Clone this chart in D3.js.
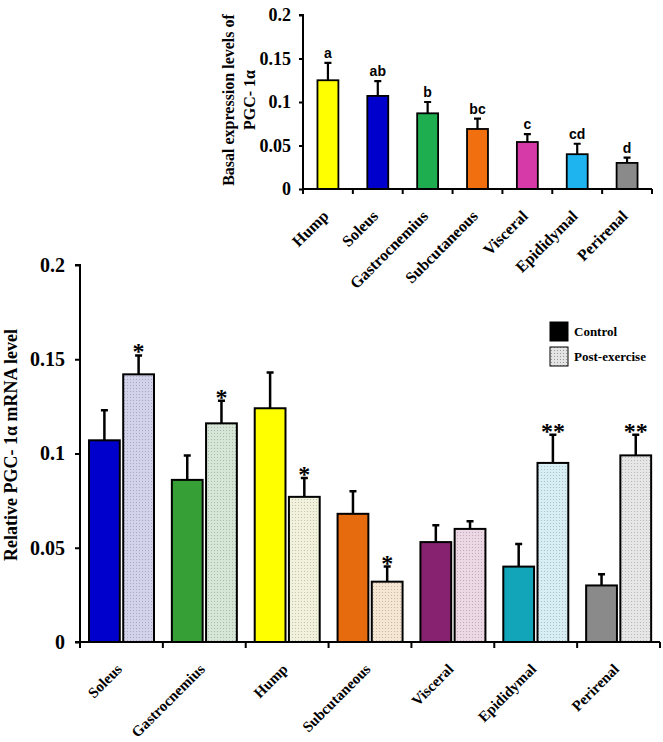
<!DOCTYPE html>
<html>
<head>
<meta charset="utf-8">
<script src="https://cdn.jsdelivr.net/npm/d3@7"></script>
<style>
body { margin: 0; background: #fff; }
text { font-family: "Liberation Serif", "Times New Roman", serif; font-weight: bold; }
</style>
</head>
<body>
<div class="chart"></div>
<script>
// top chart: basal levels
const basalTissues = ['Hump', 'Soleus', 'Gastrocnemius', 'Subcutaneous', 'Visceral', 'Epididymal', 'Perirenal'];
const basalMean = [0.125, 0.107, 0.087, 0.069, 0.054, 0.040, 0.030];
const basalErr = [0.020, 0.017, 0.013, 0.012, 0.009, 0.012, 0.006];
const basalLetters = ['a', 'ab', 'b', 'bc', 'c', 'cd', 'd'];
const basalColors = ['#ffff00', '#0000cc', '#1fae4f', '#f26f10', '#d63aa8', '#1db4f0', '#8a8a8a'];

// bottom chart: control vs post-exercise
const tissues = ['Soleus', 'Gastrocnemius', 'Hump', 'Subcutaneous', 'Visceral', 'Epididymal', 'Perirenal'];
const controlMean = [0.107, 0.086, 0.124, 0.068, 0.053, 0.040, 0.030];
const controlErr = [0.016, 0.013, 0.019, 0.012, 0.009, 0.012, 0.006];
const postMean = [0.142, 0.116, 0.077, 0.032, 0.060, 0.095, 0.099];
const postErr = [0.010, 0.012, 0.010, 0.008, 0.004, 0.015, 0.011];
const postStars = ['*', '*', '*', '*', '', '**', '**'];
const controlColors = ['#0000cc', '#36a036', '#ffff00', '#e56b0e', '#862270', '#12a4b8', '#8a8a8a'];
const postColors = ['#d2d2ea', '#d6e6d6', '#f2f2dc', '#f4e6d2', '#ecd8e4', '#d6eef4', '#e6e6e6'];
const yTicks = [0, 0.05, 0.1, 0.15, 0.2];

const width = 663;
const height = 742;
const svg = d3.select('.chart')
	.append('svg')
	.attr('width', width)
	.attr('height', height);

const defs = svg.append('defs');
postColors.forEach((c, i) => {
	const p = defs.append('pattern')
		.attr('id', 'dots' + i)
		.attr('width', 3)
		.attr('height', 3)
		.attr('patternUnits', 'userSpaceOnUse');
	p.append('rect').attr('width', 3).attr('height', 3).attr('fill', c);
	p.append('rect').attr('x', 1).attr('y', 1).attr('width', 1).attr('height', 1)
		.attr('fill', d3.color(c).darker(0.6));
});
const legendPat = defs.append('pattern')
	.attr('id', 'dotsLegend')
	.attr('width', 3)
	.attr('height', 3)
	.attr('patternUnits', 'userSpaceOnUse');
legendPat.append('rect').attr('width', 3).attr('height', 3).attr('fill', '#e4e4e4');
legendPat.append('rect').attr('x', 1).attr('y', 1).attr('width', 1).attr('height', 1).attr('fill', '#999');

// ---------- top chart ----------
const tx = d3.scaleBand().domain(basalTissues).range([303, 652]);
const ty = d3.scaleLinear().domain([0, 0.2]).range([189, 15]);
const tbw = tx.bandwidth() * 0.42;

const topG = svg.append('g');
topG.selectAll('.terr')
	.data(basalTissues)
	.enter()
	.append('path')
	.attr('d', (d, i) => {
		const cx = tx(d) + tx.bandwidth() / 2;
		const y1 = ty(basalMean[i] + basalErr[i]);
		return `M${cx},${ty(basalMean[i])}V${y1}M${cx - 3.5},${y1}H${cx + 3.5}`;
	})
	.attr('stroke', '#000')
	.attr('stroke-width', 2.2)
	.attr('fill', 'none');
topG.selectAll('.tbar')
	.data(basalTissues)
	.enter()
	.append('rect')
	.attr('x', d => tx(d) + (tx.bandwidth() - tbw) / 2)
	.attr('y', (d, i) => ty(basalMean[i]))
	.attr('width', tbw)
	.attr('height', (d, i) => ty(0) - ty(basalMean[i]))
	.attr('fill', (d, i) => basalColors[i])
	.attr('stroke', '#000')
	.attr('stroke-width', 1.8);
topG.selectAll('.tlet')
	.data(basalTissues)
	.enter()
	.append('text')
	.attr('x', d => tx(d) + tx.bandwidth() / 2)
	.attr('y', (d, i) => ty(basalMean[i] + basalErr[i]) - 5)
	.attr('text-anchor', 'middle')
	.style('font-family', '"Liberation Sans", Arial, sans-serif')
	.style('font-size', '14px')
	.text((d, i) => basalLetters[i]);

const tyAxis = topG.append('g')
	.attr('transform', 'translate(303,0)')
	.call(d3.axisLeft(ty).tickValues(yTicks).tickSize(4).tickPadding(8)
		.tickFormat(d => d === 0 ? '0' : d3.format('')(d)));
tyAxis.select('.domain').attr('stroke-width', 2).attr('d', `M-4,${ty(0.2)}H0V${ty(0)}`);
tyAxis.selectAll('line').attr('stroke-width', 2);
tyAxis.selectAll('text').style('font-size', '18px');

const txAxis = topG.append('g')
	.attr('transform', 'translate(0,189)');
txAxis.append('path')
	.attr('d', `M${tx.range()[0]},0H${tx.range()[1]}`)
	.attr('stroke', '#000').attr('stroke-width', 2);
txAxis.selectAll('line')
	.data(basalTissues.concat(['end']))
	.enter()
	.append('line')
	.attr('x1', (d, i) => i < basalTissues.length ? tx(d) : tx.range()[1])
	.attr('x2', (d, i) => i < basalTissues.length ? tx(d) : tx.range()[1])
	.attr('y1', 0).attr('y2', 5)
	.attr('stroke', '#000').attr('stroke-width', 2);
txAxis.selectAll('text')
	.data(basalTissues)
	.enter()
	.append('text')
	.attr('x', d => tx(d) + tx.bandwidth() / 2 + 1.5)
	.attr('y', 28)
	.attr('transform', d => `rotate(-45, ${tx(d) + tx.bandwidth() / 2 + 1.5}, 28)`)
	.attr('text-anchor', 'end')
	.style('font-size', '16px')
	.text(d => d);

const tLab = topG.append('text')
	.attr('transform', 'translate(234,100) rotate(-90)')
	.attr('text-anchor', 'middle')
	.style('font-size', '16px');
tLab.append('tspan').attr('x', 0).attr('dy', 0).text('Basal expression levels of');
tLab.append('tspan').attr('x', 0).attr('dy', 21).text('PGC- 1α');

// ---------- bottom chart ----------
const bx = d3.scaleBand().domain(tissues).range([80, 660]);
const bx1 = d3.scaleBand().domain(['control', 'post']).range([9, 74]).paddingInner(0.1);
const by = d3.scaleLinear().domain([0, 0.2]).range([642, 265]);

const rows = tissues.map((t, i) => [
	{ t: t, i: i, g: 'control', m: controlMean[i], e: controlErr[i], fill: controlColors[i], star: '' },
	{ t: t, i: i, g: 'post', m: postMean[i], e: postErr[i], fill: `url(#dots${i})`, star: postStars[i] }
]).flat();

const bot = svg.append('g');
bot.selectAll('.berr')
	.data(rows)
	.enter()
	.append('path')
	.attr('d', d => {
		const cx = bx(d.t) + bx1(d.g) + bx1.bandwidth() / 2;
		const y1 = by(d.m + d.e);
		return `M${cx},${by(d.m)}V${y1}M${cx - 3.5},${y1}H${cx + 3.5}`;
	})
	.attr('stroke', '#000')
	.attr('stroke-width', 2.5)
	.attr('fill', 'none');
bot.selectAll('.bbar')
	.data(rows)
	.enter()
	.append('rect')
	.attr('x', d => bx(d.t) + bx1(d.g))
	.attr('y', d => by(d.m))
	.attr('width', bx1.bandwidth())
	.attr('height', d => by(0) - by(d.m))
	.attr('fill', d => d.fill)
	.attr('stroke', '#000')
	.attr('stroke-width', 2);
bot.selectAll('.bstar')
	.data(rows.filter(d => d.star))
	.enter()
	.append('text')
	.attr('x', d => bx(d.t) + bx1(d.g) + bx1.bandwidth() / 2)
	.attr('y', d => by(d.m + d.e) + 4)
	.attr('text-anchor', 'middle')
	.style('font-size', '24px')
	.text(d => d.star);

const byAxis = bot.append('g')
	.attr('transform', 'translate(80,0)')
	.call(d3.axisLeft(by).tickValues(yTicks).tickSize(5).tickPadding(10)
		.tickFormat(d => d === 0 ? '0' : d3.format('')(d)));
byAxis.select('.domain').attr('stroke-width', 2).attr('d', `M-5,${by(0.2)}H0V${by(0)}`);
byAxis.selectAll('line').attr('stroke-width', 2);
byAxis.selectAll('text').style('font-size', '20px');

const bxAxis = bot.append('g')
	.attr('transform', 'translate(0,642)');
bxAxis.append('path')
	.attr('d', `M75,0H${bx.range()[1]}`)
	.attr('stroke', '#000').attr('stroke-width', 2);
bxAxis.selectAll('line')
	.data(tissues.concat(['end']))
	.enter()
	.append('line')
	.attr('x1', (d, i) => i < tissues.length ? bx(d) : bx.range()[1])
	.attr('x2', (d, i) => i < tissues.length ? bx(d) : bx.range()[1])
	.attr('y1', 0).attr('y2', 6)
	.attr('stroke', '#000').attr('stroke-width', 2);
bxAxis.selectAll('text')
	.data(tissues)
	.enter()
	.append('text')
	.attr('x', d => bx(d) + bx.bandwidth() / 2 + 1.5)
	.attr('y', 28)
	.attr('transform', d => `rotate(-45, ${bx(d) + bx.bandwidth() / 2 + 1.5}, 28)`)
	.attr('text-anchor', 'end')
	.style('font-size', '15px')
	.text(d => d);

bot.append('text')
	.attr('transform', 'translate(17,445) rotate(-90)')
	.attr('text-anchor', 'middle')
	.style('font-size', '18px')
	.text('Relative PGC- 1α mRNA level');

// legend
const legend = svg.append('g').attr('transform', 'translate(550,322)');
const legendItems = [['Control', '#000'], ['Post-exercise', 'url(#dotsLegend)']];
legend.selectAll('rect')
	.data(legendItems)
	.enter()
	.append('rect')
	.attr('x', 0)
	.attr('y', (d, i) => i * 25)
	.attr('width', 18)
	.attr('height', 19)
	.attr('fill', d => d[1])
	.attr('stroke', '#000')
	.attr('stroke-width', 1);
legend.selectAll('text')
	.data(legendItems)
	.enter()
	.append('text')
	.attr('x', 24)
	.attr('y', (d, i) => i * 25 + 14)
	.style('font-size', '13px')
	.text(d => d[0]);
</script>
</body>
</html>
